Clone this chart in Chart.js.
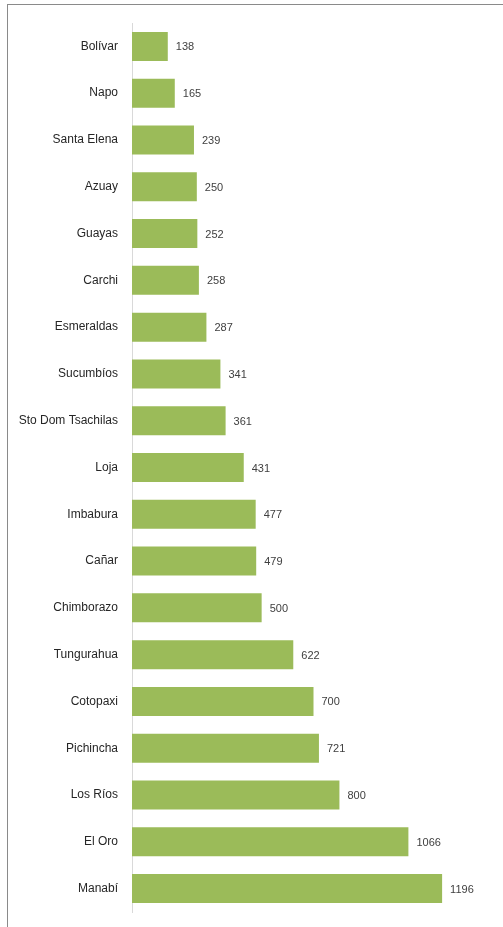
<!DOCTYPE html>
<html>
<head>
<meta charset="utf-8">
<script src="https://cdn.jsdelivr.net/npm/chart.js@4"></script>
<style>
  html, body { margin: 0; padding: 0; background: #fff; overflow: hidden; }
  #wrap { position: relative; width: 503px; height: 927px; }
  #frame { position: absolute; left: 7px; top: 4px; width: 600px; height: 1000px; border: 1px solid #8a8a8a; box-sizing: border-box; }
  canvas { position: absolute; left: 0; top: 0; }
</style>
</head>
<body>
<div id="wrap">
  <div id="frame"></div>
  <canvas id="c" width="503" height="927"></canvas>
</div>
<script>
const categories = ["Bolívar","Napo","Santa Elena","Azuay","Guayas","Carchi","Esmeraldas","Sucumbíos","Sto Dom Tsachilas","Loja","Imbabura","Cañar","Chimborazo","Tungurahua","Cotopaxi","Pichincha","Los Ríos","El Oro","Manabí"];
const values = [138,165,239,250,252,258,287,341,361,431,477,479,500,622,700,721,800,1066,1196];

const FONT = "'Liberation Sans Narrow', 'Liberation Sans', Arial, sans-serif";

const valueLabels = {
  id: 'valueLabels',
  afterDatasetsDraw(chart) {
    const ctx = chart.ctx;
    const meta = chart.getDatasetMeta(0);
    ctx.save();
    ctx.font = "11px " + FONT;
    ctx.fillStyle = "#404040";
    ctx.textAlign = "left";
    ctx.textBaseline = "middle";
    meta.data.forEach((bar, i) => {
      ctx.fillText(String(values[i]), bar.x + 8, bar.y + 1);
    });
    ctx.restore();
  }
};

new Chart(document.getElementById('c'), {
  type: 'bar',
  data: {
    labels: categories,
    datasets: [{
      data: values,
      backgroundColor: '#9BBB59',
      borderWidth: 0,
      barPercentage: 0.62,
      categoryPercentage: 1.0
    }]
  },
  plugins: [valueLabels],
  options: {
    indexAxis: 'y',
    responsive: false,
    animation: false,
    devicePixelRatio: 1,
    layout: { padding: { top: 23, bottom: 15, left: 0, right: 8 } },
    plugins: { legend: { display: false }, tooltip: { enabled: false } },
    scales: {
      x: {
        display: false,
        min: 0,
        max: 1400,
        afterFit(scale) { scale.height = 0; scale.paddingTop = 0; scale.paddingBottom = 0; }
      },
      y: {
        afterFit(scale) { scale.width = 132; scale.paddingTop = 0; scale.paddingBottom = 0; },
        grid: { display: false, drawTicks: false },
        border: { display: true, color: '#d9d9d9', width: 1 },
        ticks: {
          padding: 14,
          color: '#262626',
          font: { size: 12, family: FONT }
        }
      }
    }
  }
});
</script>
</body>
</html>
